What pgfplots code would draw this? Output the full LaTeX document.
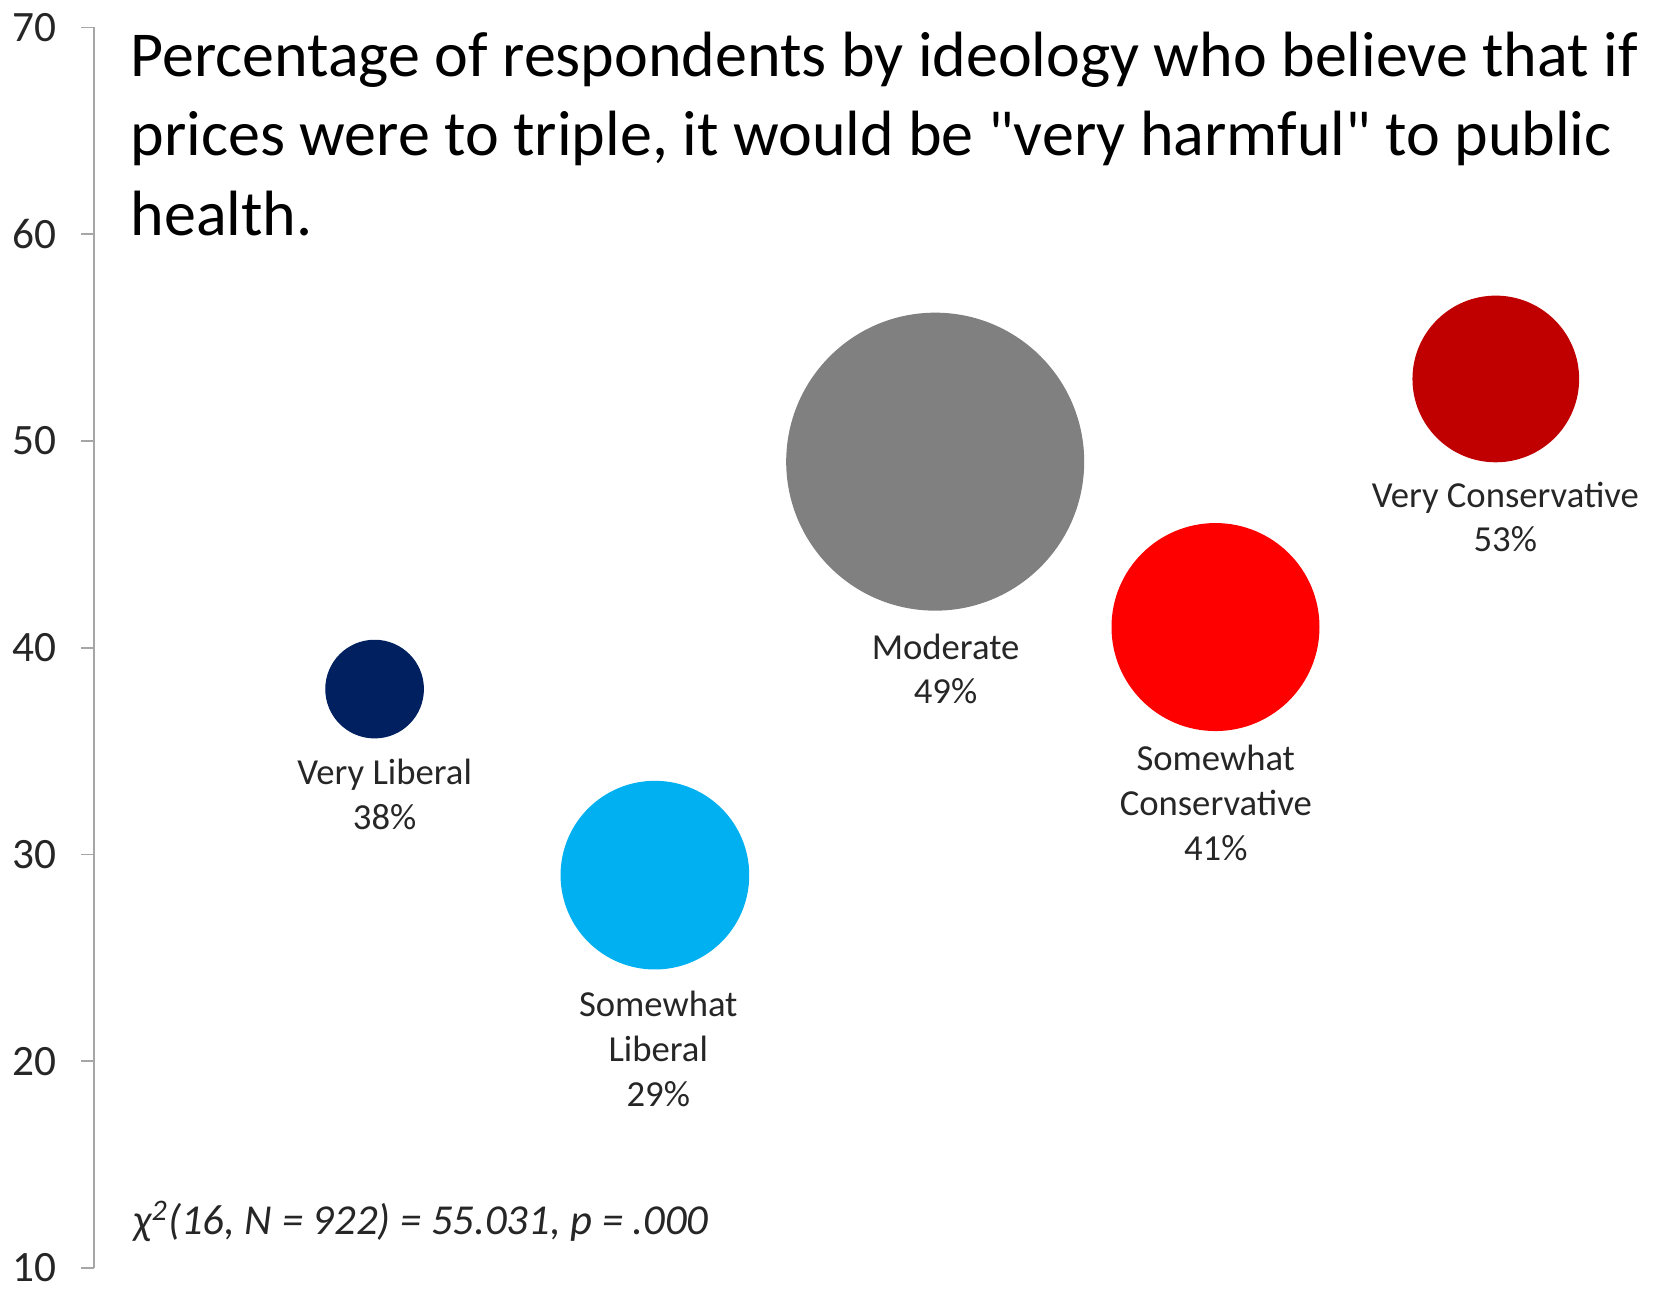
\documentclass[border=0pt]{standalone}
\usepackage{fontspec}
\setmainfont{Carlito}
\newfontfamily\titlefont{Carlito}[Ligatures=TeXOff]
\usepackage{pgfplots}
\pgfplotsset{compat=1.18}
\definecolor{vlib}{HTML}{002060}
\definecolor{slib}{HTML}{00B0F0}
\definecolor{mode}{HTML}{808080}
\definecolor{scon}{HTML}{FF0000}
\definecolor{vcon}{HTML}{C00000}
\definecolor{axisgray}{HTML}{A6A6A6}
\begin{document}
\begin{tikzpicture}
\begin{axis}[
  scale only axis, width=470.31pt, height=372.15pt,
  xmin=0, xmax=5.593, ymin=10, ymax=70,
  axis x line=none, axis y line*=left,
  ytick={10,20,30,40,50,60,70},
  y axis line style={color=axisgray, line width=0.5pt},
  tick align=outside, major tick length=3.9pt,
  ytick style={color=axisgray, line width=0.5pt},
  yticklabel style={font=\fontsize{13}{15}\selectfont, text=black!85, xshift=-4pt},
  /pgf/number format/assume math mode=true,
  clip=false,
]
\addplot[only marks, mark=*, mark size=14.6pt, color=vlib] coordinates {(1,38)};
\addplot[only marks, mark=*, mark size=28.1pt, color=slib] coordinates {(2,29)};
\addplot[only marks, mark=*, mark size=44.5pt, color=mode] coordinates {(3,49)};
\addplot[only marks, mark=*, mark size=31.0pt, color=scon] coordinates {(4,41)};
\addplot[only marks, mark=*, mark size=24.8pt, color=vcon] coordinates {(5,53)};

\begin{scope}[every node/.style={font=\fontsize{11}{13.4}\selectfont, align=center, text=black!85}]
\node at (axis cs:1.036,32.92) {Very Liberal\\38\%};
\node at (axis cs:2.012,20.60) {Somewhat\\Liberal\\29\%};
\node at (axis cs:3.037,38.97) {Moderate\\49\%};
\node at (axis cs:4.001,32.49) {Somewhat\\Conservative\\41\%};
\node at (axis cs:5.034,46.32) {Very Conservative\\53\%};
\end{scope}

\begin{scope}[every node/.style={font=\titlefont\fontsize{19.2}{23.5}\selectfont, anchor=base west, inner sep=0pt, text=black}]
\node at (axis cs:0.127,67.64) {Percentage of respondents by ideology who believe that if};
\node at (axis cs:0.127,63.82) {prices were to triple, it would be "very harmful" to public};
\node at (axis cs:0.127,59.95) {health.};
\end{scope}

\node[anchor=west, inner sep=0pt, font=\itshape\fontsize{12.8}{16}\selectfont, text=black!85] at (axis cs:0.137,12.26) {χ\textsuperscript{2}(16, N = 922) = 55.031, p = .000};
\end{axis}
\pgfresetboundingbox
\path[use as bounding box] ([shift={(-28.29pt,-6.6pt)}]current axis.south west) rectangle ++(498.6pt,387pt);
\end{tikzpicture}
\end{document}
